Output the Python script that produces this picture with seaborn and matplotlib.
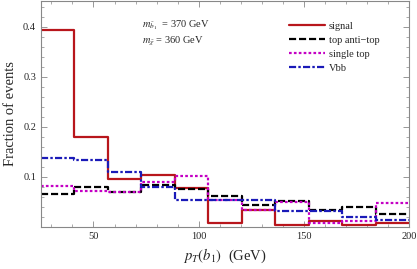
import numpy as np
import pandas as pd
import seaborn as sns
import matplotlib.pyplot as plt
from matplotlib.ticker import MultipleLocator

# 11 bins from 25 to 200 GeV
pt_min, pt_max, n_bins = 25, 200, 11
bin_width = (pt_max - pt_min) / n_bins
bin_centers = pt_min + bin_width * (np.arange(n_bins) + 0.5)

signal = [0.394, 0.180, 0.096, 0.103, 0.077, 0.009, 0.034, 0.004, 0.013, 0.004, 0.009]
top_antitop = [0.065, 0.079, 0.069, 0.084, 0.076, 0.062, 0.044, 0.052, 0.034, 0.039, 0.027]
single_top = [0.081, 0.071, 0.069, 0.089, 0.101, 0.054, 0.033, 0.049, 0.009, 0.013, 0.047]
vbb = [0.137, 0.133, 0.109, 0.079, 0.054, 0.054, 0.053, 0.032, 0.032, 0.021, 0.014]

series_names = ['signal', 'top anti\u2212top', 'single top', 'Vbb']
series_vals = [signal, top_antitop, single_top, vbb]
colors = ['#b8161c', '#000000', '#c400c4', '#1a1ab8']
styles = ['-', (0, (3.2, 1.3)), (0, (1.2, 1.0)), (0, (3.2, 1.0, 1.1, 1.0))]

sns.set_style('ticks')
plt.rcParams['font.family'] = ['Liberation Serif', 'DejaVu Serif']
plt.rcParams['mathtext.fontset'] = 'stix'

fig = plt.figure(figsize=(4.17, 2.69), dpi=100)
ax = fig.add_axes([0.098, 0.156, 0.883, 0.842])

for name, vals, col, ls in zip(series_names, series_vals, colors, styles):
    df = pd.DataFrame({'pt': bin_centers, 'frac': vals})
    sns.histplot(data=df, x='pt', weights='frac', binwidth=bin_width, binrange=(pt_min, pt_max),
                 element='step', fill=False, color=col, linestyle=ls, linewidth=1.6,
                 ax=ax, label=name)

ax.set_xlim(pt_min, pt_max)
ax.set_ylim(0, 0.452)
ax.xaxis.set_major_locator(MultipleLocator(50))
ax.xaxis.set_minor_locator(MultipleLocator(10))
ax.yaxis.set_major_locator(MultipleLocator(0.1))
ax.yaxis.set_minor_locator(MultipleLocator(0.02))
ax.set_yticks([0.1, 0.2, 0.3, 0.4])
ax.tick_params(which='both', direction='in', top=True, right=True, color='#888888', labelsize=7.5)
ax.tick_params(which='major', length=4, width=0.6)
ax.tick_params(which='minor', length=2, width=0.5)
for sp in ax.spines.values():
    sp.set_color('#888888')
    sp.set_linewidth(0.8)

ax.set_xlabel(r'$p_T(b_1)$  (GeV)', fontsize=10.5)
ax.set_ylabel('Fraction of events', fontsize=10.5)

ax.text(0.275, 0.89, r'$m_{\tilde{b}_1}$  = 370 GeV', transform=ax.transAxes, fontsize=7.5, va='center')
ax.text(0.275, 0.82, r'$m_{\tilde{\chi}}$ = 360 GeV', transform=ax.transAxes, fontsize=7.5, va='center')

ax.legend(loc='upper left', bbox_to_anchor=(0.66, 0.93), frameon=False, fontsize=7.5,
          handlelength=3.4, handletextpad=0.4, labelspacing=0.45, borderpad=0)

fig.savefig('out.png', dpi=100)
